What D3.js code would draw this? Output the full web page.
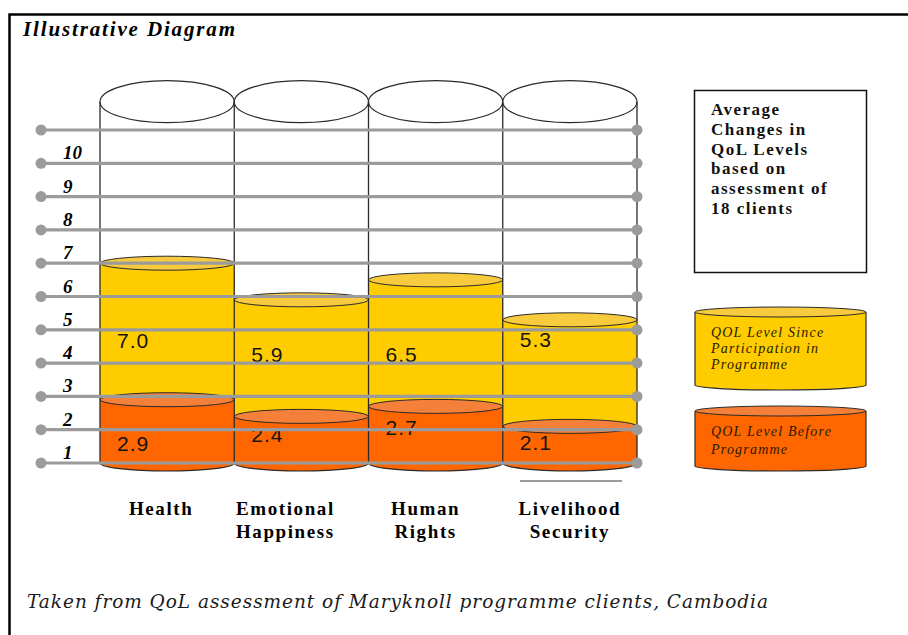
<!DOCTYPE html>
<html>
<head>
<meta charset="utf-8">
<script src="https://cdn.jsdelivr.net/npm/d3@7/dist/d3.min.js"></script>
<style>
  html, body { margin: 0; padding: 0; background: #fff; }
  svg { display: block; }
</style>
</head>
<body>
<script>
// ---- data -------------------------------------------------------------
const categories = ["Health", "Emotional Happiness", "Human Rights", "Livelihood Security"];
const qolBefore  = [2.9, 2.4, 2.7, 2.1];   // QoL level before programme
const qolSince   = [7.0, 5.9, 6.5, 5.3];   // QoL level since participation
const tickValues = [1, 2, 3, 4, 5, 6, 7, 8, 9, 10];
const gridValues = [1, 2, 3, 4, 5, 6, 7, 8, 9, 10, 11];
const noteLines  = ["Average", "Changes in", "QoL Levels", "based on", "assessment of", "18 clients"];
const sinceLabel = ["QOL Level Since", "Participation in", "Programme"];
const beforeLabel = ["QOL Level Before", "Programme"];
const titleText  = "Illustrative Diagram";
const sourceText = "Taken from QoL assessment of Maryknoll programme clients, Cambodia";

// ---- layout -----------------------------------------------------------
const W = 908, H = 635;
const capValue = 11.85;                       // rim of the empty drums
const sinceLabelDy  = [85, 62, 82, 27];       // baseline offset below the yellow top
const beforeLabelDy = [51, 26, 29, 24];       // baseline offset below the orange top
const catLabelDx    = [-6, -16, -10, 0];

const YELLOW = "#FFCC00", YELLOW_TOP = "#F8CB3E";
const ORANGE = "#FF6600", ORANGE_TOP = "#F5803A";
const EDGE = "#2a2a2a", GRID = "#9b9b9b";
const SERIF = "'Liberation Serif', 'Times New Roman', serif";

const svg = d3.select("body").append("svg")
  .attr("width", W).attr("height", H);

const x = d3.scaleBand().domain(categories).range([100, 637]).padding(0);
const y = d3.scaleLinear().domain([1, 11]).range([463, 130]);

// frame (only top and left edges fall inside the view)
svg.append("path")
  .attr("d", `M9.5,${H} V14.5 H${W}`)
  .attr("fill", "none").attr("stroke", "#000").attr("stroke-width", 2.5);

// title
svg.append("text")
  .attr("x", 23).attr("y", 36)
  .attr("textLength", 212).attr("lengthAdjust", "spacing")
  .style("font-family", SERIF)
  .style("font-weight", "bold").style("font-style", "italic")
  .style("font-size", "21px").attr("fill", "#000")
  .text(titleText);

const plot = svg.append("g");
const rows = categories.map((c, i) => ({ c, i, before: qolBefore[i], since: qolSince[i] }));
const bw = x.bandwidth();
const capRy = 21, segRy = 7;

// empty drum rims
plot.selectAll("ellipse.rim").data(rows).join("ellipse")
  .attr("class", "rim")
  .attr("cx", d => x(d.c) + bw / 2).attr("cy", y(capValue))
  .attr("rx", bw / 2).attr("ry", capRy)
  .attr("fill", "#fff").attr("stroke", EDGE).attr("stroke-width", 1.2);

// bottom of each filled drum
plot.selectAll("path.base").data(rows).join("path")
  .attr("class", "base")
  .attr("d", d => `M${x(d.c)},${y(1)} A${bw / 2},${segRy + 1} 0 0 0 ${x(d.c) + bw},${y(1)} Z`)
  .attr("fill", ORANGE).attr("stroke", EDGE).attr("stroke-width", 1.2);

// before-programme segment
plot.selectAll("rect.before").data(rows).join("rect")
  .attr("class", "before")
  .attr("x", d => x(d.c)).attr("width", bw)
  .attr("y", d => y(d.before)).attr("height", d => y(1) - y(d.before))
  .attr("fill", ORANGE);

// since-participation segment
plot.selectAll("rect.since").data(rows).join("rect")
  .attr("class", "since")
  .attr("x", d => x(d.c)).attr("width", bw)
  .attr("y", d => y(d.since)).attr("height", d => y(d.before) - y(d.since))
  .attr("fill", YELLOW);

// segment tops
plot.selectAll("ellipse.beforeTop").data(rows).join("ellipse")
  .attr("class", "beforeTop")
  .attr("cx", d => x(d.c) + bw / 2).attr("cy", d => y(d.before))
  .attr("rx", bw / 2).attr("ry", segRy)
  .attr("fill", ORANGE_TOP).attr("stroke", EDGE).attr("stroke-width", 1);

plot.selectAll("ellipse.sinceTop").data(rows).join("ellipse")
  .attr("class", "sinceTop")
  .attr("cx", d => x(d.c) + bw / 2).attr("cy", d => y(d.since))
  .attr("rx", bw / 2).attr("ry", segRy)
  .attr("fill", YELLOW_TOP).attr("stroke", EDGE).attr("stroke-width", 1);

// drum walls
const wallX = categories.map(c => x(c)).concat([x(categories[categories.length - 1]) + bw]);
plot.selectAll("line.wall").data(wallX).join("line")
  .attr("class", "wall")
  .attr("x1", d => d).attr("x2", d => d)
  .attr("y1", y(capValue)).attr("y2", y(1))
  .attr("stroke", EDGE).attr("stroke-width", 1.3);

// value labels
const valueFont = sel => sel
  .style("font-family", "'Liberation Sans', Arial, sans-serif")
  .style("font-size", "21px").style("letter-spacing", "1px")
  .attr("fill", "#141414");

plot.selectAll("text.sinceVal").data(rows).join("text")
  .attr("class", "sinceVal")
  .attr("x", d => x(d.c) + 17).attr("y", d => y(d.since) + sinceLabelDy[d.i])
  .call(valueFont).text(d => d.since.toFixed(1));

plot.selectAll("text.beforeVal").data(rows).join("text")
  .attr("class", "beforeVal")
  .attr("x", d => x(d.c) + 17).attr("y", d => y(d.before) + beforeLabelDy[d.i])
  .call(valueFont).text(d => d.before.toFixed(1));

// grid rails laid over the drums
const rails = svg.append("g");
rails.selectAll("line").data(gridValues).join("line")
  .attr("x1", 41).attr("x2", 637)
  .attr("y1", d => y(d)).attr("y2", d => y(d))
  .attr("stroke", GRID).attr("stroke-width", 3.2);
rails.selectAll("circle.l").data(gridValues).join("circle")
  .attr("class", "l").attr("cx", 41).attr("cy", d => y(d)).attr("r", 5.5).attr("fill", GRID);
rails.selectAll("circle.r").data(gridValues).join("circle")
  .attr("class", "r").attr("cx", 637).attr("cy", d => y(d)).attr("r", 5.5).attr("fill", GRID);

// short rule under the last drum
svg.append("line")
  .attr("x1", 520).attr("x2", 622).attr("y1", 481).attr("y2", 481)
  .attr("stroke", GRID).attr("stroke-width", 2);

// scale numbers
svg.append("g").selectAll("text").data(tickValues).join("text")
  .attr("x", 63).attr("y", d => y(d) - 4)
  .style("font-family", SERIF)
  .style("font-weight", "bold").style("font-style", "italic")
  .style("font-size", "19px").attr("fill", "#000")
  .text(d => d);

// category names
const cats = svg.append("g").selectAll("text").data(rows).join("text")
  .attr("text-anchor", "middle")
  .attr("x", d => x(d.c) + bw / 2 + catLabelDx[d.i])
  .attr("y", 515)
  .style("font-family", SERIF)
  .style("font-weight", "bold").style("font-size", "19px")
  .style("letter-spacing", "1.6px").attr("fill", "#000");
cats.each(function (d) {
  const words = d.c.split(" ");
  d3.select(this).selectAll("tspan").data(words).join("tspan")
    .attr("x", x(d.c) + bw / 2 + catLabelDx[d.i])
    .attr("dy", (w, k) => k === 0 ? 0 : 23)
    .text(w => w);
});

// note box
svg.append("rect")
  .attr("x", 694.5).attr("y", 90.5).attr("width", 172).attr("height", 182)
  .attr("fill", "#fff").attr("stroke", "#111").attr("stroke-width", 1.5);
svg.append("g").selectAll("text").data(noteLines).join("text")
  .attr("x", 711).attr("y", (d, i) => 115 + i * 19.8)
  .style("font-family", SERIF)
  .style("font-weight", "bold").style("font-size", "17px")
  .style("letter-spacing", "1.5px").attr("fill", "#111")
  .text(d => d);

// legend drums
function legendDrum(top, bottom, body, cap, lines, lineGap) {
  const g = svg.append("g");
  const x0 = 695, w = 171, ry = 5;
  g.append("rect").attr("x", x0).attr("y", top).attr("width", w).attr("height", bottom - top).attr("fill", body);
  g.append("path")
    .attr("d", `M${x0},${bottom} A${w / 2},${ry} 0 0 0 ${x0 + w},${bottom}`)
    .attr("fill", body).attr("stroke", EDGE).attr("stroke-width", 1.2);
  g.append("line").attr("x1", x0).attr("x2", x0).attr("y1", top).attr("y2", bottom)
    .attr("stroke", EDGE).attr("stroke-width", 1.2);
  g.append("line").attr("x1", x0 + w).attr("x2", x0 + w).attr("y1", top).attr("y2", bottom)
    .attr("stroke", EDGE).attr("stroke-width", 1.2);
  g.append("ellipse").attr("cx", x0 + w / 2).attr("cy", top).attr("rx", w / 2).attr("ry", ry)
    .attr("fill", cap).attr("stroke", EDGE).attr("stroke-width", 1);
  g.selectAll("text").data(lines).join("text")
    .attr("x", 711).attr("y", (d, i) => top + 25 + i * lineGap)
    .style("font-family", SERIF)
    .style("font-style", "italic").style("font-size", "14px")
    .style("letter-spacing", "1.2px").attr("fill", "#2a1a00")
    .text(d => d);
}
legendDrum(312, 385, YELLOW, YELLOW_TOP, sinceLabel, 16);
legendDrum(411, 466, ORANGE, ORANGE_TOP, beforeLabel, 18);

// source line
svg.append("text")
  .attr("x", 27).attr("y", 608)
  .attr("textLength", 741).attr("lengthAdjust", "spacing")
  .style("font-family", "'DejaVu Serif', serif")
  .style("font-style", "italic").style("font-size", "18.5px")
  .attr("fill", "#1a1a1a")
  .text(sourceText);
</script>
</body>
</html>
